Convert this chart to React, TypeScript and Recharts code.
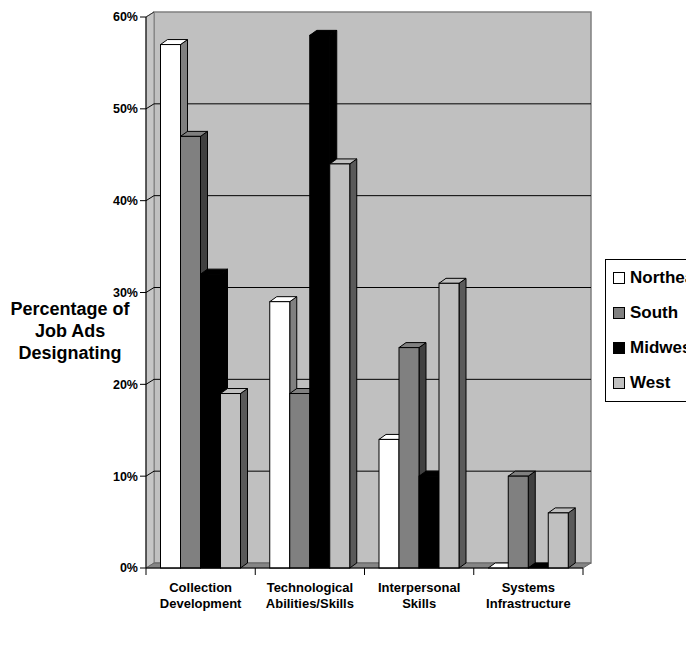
import React from 'react';
import { BarChart, Bar, XAxis, YAxis, ReferenceArea, Legend } from 'recharts';

// Skill areas named in job ads, by US region (percent of ads)
const categories = [
  'Collection Development',
  'Technological Abilities/Skills',
  'Interpersonal Skills',
  'Systems Infrastructure',
];
const northeast = [57, 29, 14, 0];
const south = [47, 19, 24, 10];
const midwest = [32, 58, 10, 0];
const west = [19, 44, 31, 6];
const yTicks = [0, 10, 20, 30, 40, 50, 60];
const yTitleLines = ['Percentage of', 'Job Ads', 'Designating'];

const FONT = '"Liberation Sans", Arial, Helvetica, sans-serif';

// depth of the 3-D walls and of each column
const WALL_DX = 8;
const WALL_DY = 5;
const BAR_DX = 7;
const BAR_DY = 5;

const series = [
  { key: 'northeast', name: 'Northeast', front: '#ffffff', side: '#808080', top: '#ffffff' },
  { key: 'south', name: 'South', front: '#808080', side: '#404040', top: '#808080' },
  { key: 'midwest', name: 'Midwest', front: '#000000', side: '#000000', top: '#000000' },
  { key: 'west', name: 'West', front: '#c0c0c0', side: '#5a5a5a', top: '#c0c0c0' },
];

const data = categories.map((category, i) => ({
  category,
  northeast: northeast[i],
  south: south[i],
  midwest: midwest[i],
  west: west[i],
}));

const makeBarShape = (front: string, side: string, top: string) => (props: any) => {
  const { x, y, width, height } = props;
  if (x == null || y == null || width == null) return <g />;
  const h = Math.max(0, height || 0);
  const x2 = x + width;
  const bottom = y + h;
  return (
    <g>
      {h > 0 && (
        <polygon
          points={`${x2},${y} ${x2 + BAR_DX},${y - BAR_DY} ${x2 + BAR_DX},${bottom - BAR_DY} ${x2},${bottom}`}
          fill={side}
          stroke="#000"
          strokeWidth={1}
        />
      )}
      <polygon
        points={`${x},${y} ${x + BAR_DX},${y - BAR_DY} ${x2 + BAR_DX},${y - BAR_DY} ${x2},${y}`}
        fill={top}
        stroke="#000"
        strokeWidth={1}
      />
      {h > 0 && <rect x={x} y={y} width={width} height={h} fill={front} stroke="#000" strokeWidth={1} />}
    </g>
  );
};

// back wall, left wall, floor and gridlines of the 3-D plot box
const WallsShape = (props: any) => {
  const { x, y, width, height } = props;
  if (x == null || y == null) return <g />;
  const bottom = y + height;
  const maxTick = yTicks[yTicks.length - 1];
  const yOf = (v: number) => bottom - (v / maxTick) * height;
  return (
    <g>
      <rect
        x={x + WALL_DX}
        y={y - WALL_DY}
        width={width}
        height={height}
        fill="#c0c0c0"
        stroke="#808080"
        strokeWidth={1.5}
      />
      <polygon
        points={`${x},${y} ${x + WALL_DX},${y - WALL_DY} ${x + WALL_DX},${bottom - WALL_DY} ${x},${bottom}`}
        fill="#c6c6c6"
        stroke="#808080"
        strokeWidth={1}
      />
      <polygon
        points={`${x},${bottom} ${x + WALL_DX},${bottom - WALL_DY} ${x + width + WALL_DX},${bottom - WALL_DY} ${x + width},${bottom}`}
        fill="#858585"
        stroke="#666"
        strokeWidth={1}
      />
      {yTicks
        .filter((v) => v > 0 && v < maxTick)
        .map((v) => {
          const yy = yOf(v);
          return (
            <g key={v}>
              <line x1={x} y1={yy} x2={x + WALL_DX} y2={yy - WALL_DY} stroke="#000" strokeWidth={1} />
              <line
                x1={x + WALL_DX}
                y1={yy - WALL_DY}
                x2={x + width + WALL_DX}
                y2={yy - WALL_DY}
                stroke="#000"
                strokeWidth={1}
              />
            </g>
          );
        })}
      <line x1={x} y1={y} x2={x + WALL_DX} y2={y - WALL_DY} stroke="#333" strokeWidth={1} />
    </g>
  );
};

const CategoryTick = (props: any) => {
  const { x, y, payload, index, visibleTicksCount, width } = props;
  const count = visibleTicksCount || categories.length;
  const half = payload && payload.offset ? payload.offset : (width || 437) / count / 2;
  const value: string = String(payload.value);
  const cut = value.indexOf(' ');
  const lines = cut > 0 ? [value.slice(0, cut), value.slice(cut + 1)] : [value];
  const left = x - half;
  return (
    <g>
      <line x1={left} y1={y} x2={left} y2={y + 7} stroke="#000" strokeWidth={1} />
      {index === count - 1 && (
        <line x1={x + half} y1={y} x2={x + half} y2={y + 7} stroke="#000" strokeWidth={1} />
      )}
      {lines.map((line, i) => (
        <text
          key={i}
          x={x}
          y={y + 24 + i * 16}
          textAnchor="middle"
          fontFamily={FONT}
          fontWeight={700}
          fontSize={13}
          fill="#000"
        >
          {line}
        </text>
      ))}
    </g>
  );
};

const YTitle = (props: any) => {
  const vb = props.viewBox || { x: 0, y: 17, width: 146, height: 551 };
  const cx = vb.x + vb.width * 0.48;
  const base = vb.y + vb.height / 2 + 22.5;
  return (
    <g>
      {yTitleLines.map((line, i) => (
        <text
          key={i}
          x={cx}
          y={base + i * 22}
          textAnchor="middle"
          fontFamily={FONT}
          fontWeight={700}
          fontSize={18}
          fill="#000"
        >
          {line}
        </text>
      ))}
    </g>
  );
};

const LegendBox = () => (
  <div
    style={{
      width: 110,
      height: 143,
      boxSizing: 'border-box',
      border: '1px solid #000',
      background: '#fff',
      paddingTop: 0,
      fontFamily: FONT,
      fontWeight: 700,
      fontSize: 17,
      color: '#000',
    }}
  >
    {series.map((s) => (
      <div key={s.key} style={{ height: 35, display: 'flex', alignItems: 'center', paddingLeft: 7 }}>
        <span
          style={{
            display: 'inline-block',
            width: 12,
            height: 12,
            boxSizing: 'border-box',
            border: '1px solid #000',
            background: s.front,
            marginRight: 5,
          }}
        />
        <span style={{ whiteSpace: 'nowrap', lineHeight: '17px' }}>{s.name}</span>
      </div>
    ))}
  </div>
);

export default function App() {
  return (
    <div
      style={{
        position: 'absolute',
        left: 0,
        top: 0,
        width: 686,
        height: 651,
        overflow: 'hidden',
        background: '#fff',
      }}
    >
      <BarChart
        width={686}
        height={651}
        data={data}
        margin={{ top: 17, right: 103, bottom: 0, left: 0 }}
        barCategoryGap={14.5}
        barGap={0}
      >
        <XAxis
          dataKey="category"
          type="category"
          height={83}
          interval={0}
          tickLine={false}
          tickSize={0}
          tickMargin={0}
          axisLine={{ stroke: '#000', strokeWidth: 1 }}
          tick={(p: any) => <CategoryTick {...p} />}
        />
        <YAxis
          type="number"
          domain={[0, 60]}
          ticks={yTicks}
          interval={0}
          width={146}
          tickSize={6}
          tickMargin={2}
          tickFormatter={(v: number) => `${v}%`}
          axisLine={{ stroke: '#000', strokeWidth: 1 }}
          tickLine={{ stroke: '#000', strokeWidth: 1 }}
          tick={{ fill: '#000', fontSize: 12.5, fontWeight: 700, fontFamily: FONT }}
          label={{ content: (p: any) => <YTitle {...p} /> }}
        />
        <ReferenceArea y1={0} y2={60} ifOverflow="visible" shape={(p: any) => <WallsShape {...p} />} />
        {series.map((s) => (
          <Bar
            key={s.key}
            dataKey={s.key}
            name={s.name}
            fill={s.front}
            isAnimationActive={false}
            shape={makeBarShape(s.front, s.side, s.top)}
          />
        ))}
        <Legend
          layout="vertical"
          align="center"
          verticalAlign="middle"
          wrapperStyle={{ left: 605, top: 259, width: 'auto' }}
          content={() => <LegendBox />}
        />
      </BarChart>
    </div>
  );
}
